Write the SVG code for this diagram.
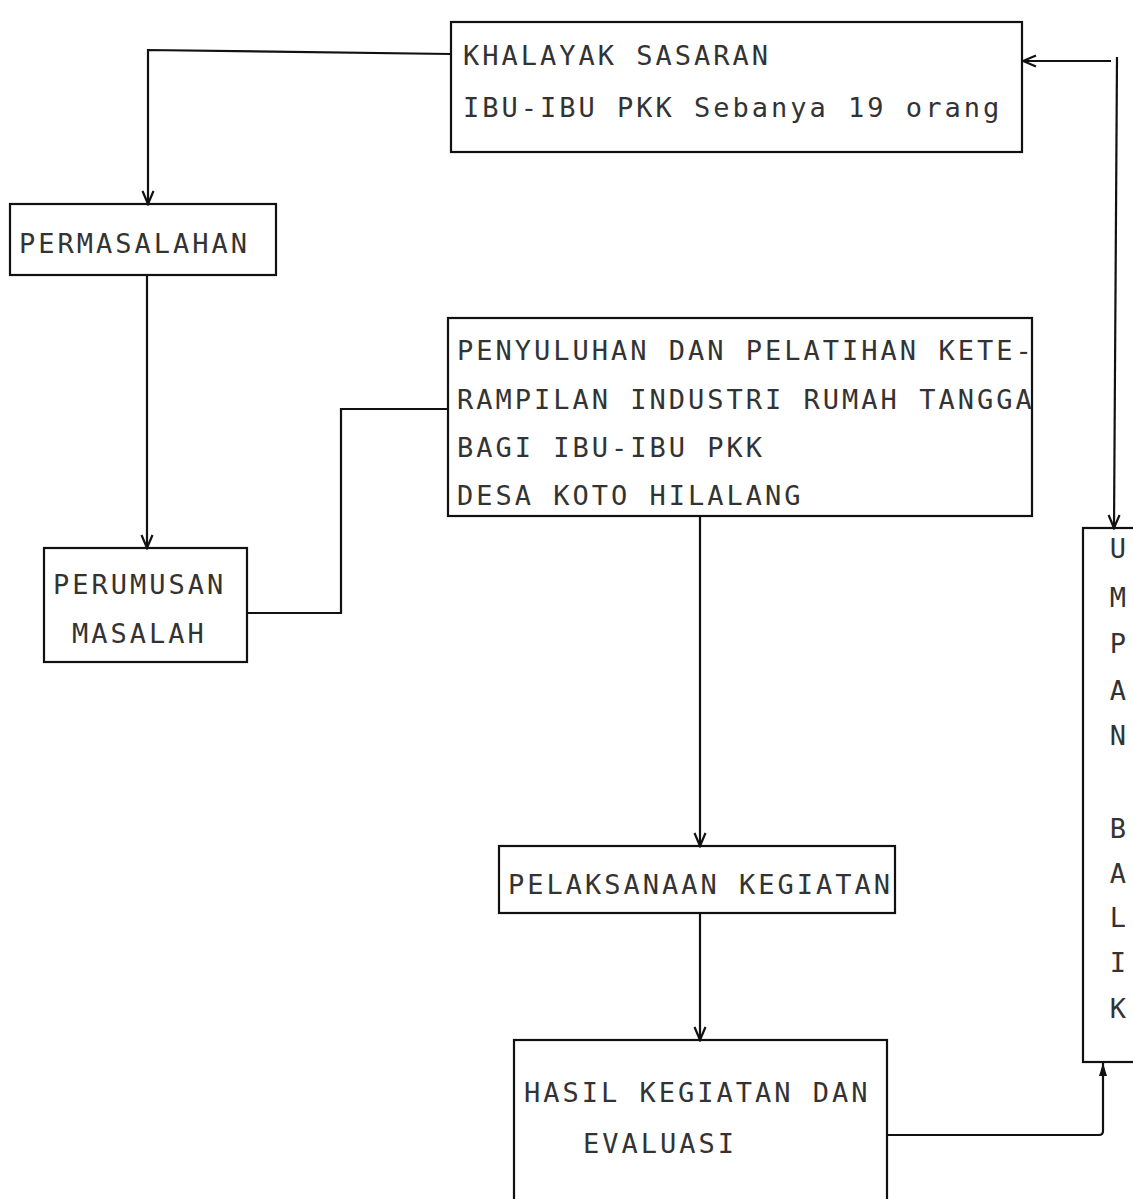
<svg xmlns="http://www.w3.org/2000/svg" width="1133" height="1199" viewBox="0 0 1133 1199">
<style>
.box{fill:none;stroke:#111;stroke-width:2.2}
.t{font-family:"DejaVu Sans Mono","Liberation Mono",monospace;font-size:27px;letter-spacing:3px;fill:#333}
.c{fill:none;stroke:#111;stroke-width:2.2}
.m{text-anchor:middle;letter-spacing:0}
</style>
<defs>
<marker id="open" viewBox="-14 -7 16 14" refX="0" refY="0" markerWidth="16" markerHeight="14" markerUnits="userSpaceOnUse" orient="auto">
<path d="M-13,-5.5 L0,0 L-13,5.5" fill="none" stroke="#111" stroke-width="2.2"/>
</marker>
<marker id="solid" viewBox="-14 -6 16 12" refX="0" refY="0" markerWidth="16" markerHeight="12" markerUnits="userSpaceOnUse" orient="auto">
<path d="M-13,-4 L0,0 L-13,4 Z" fill="#111"/>
</marker>
</defs>
<rect width="1133" height="1199" fill="#fff"/>

<g id="khalayak">
<rect class="box" x="451" y="22" width="571" height="130"/>
<text class="t" x="463" y="65">KHALAYAK SASARAN</text>
<text class="t" x="463" y="117">IBU-IBU PKK Sebanya 19 orang</text>
</g>

<g id="permasalahan">
<rect class="box" x="10" y="204" width="266" height="71"/>
<text class="t" x="19" y="253">PERMASALAHAN</text>
</g>

<g id="perumusan">
<rect class="box" x="44" y="548" width="203" height="114"/>
<text class="t" x="53" y="594">PERUMUSAN</text>
<text class="t" x="72" y="643">MASALAH</text>
</g>

<g id="penyuluhan">
<rect class="box" x="448" y="318" width="584" height="198"/>
<text class="t" x="457" y="360">PENYULUHAN DAN PELATIHAN KETE-</text>
<text class="t" x="457" y="409">RAMPILAN INDUSTRI RUMAH TANGGA</text>
<text class="t" x="457" y="457">BAGI IBU-IBU PKK</text>
<text class="t" x="457" y="505">DESA KOTO HILALANG</text>
</g>

<g id="pelaksanaan">
<rect class="box" x="499" y="846" width="396" height="67"/>
<text class="t" x="508" y="894">PELAKSANAAN KEGIATAN</text>
</g>

<g id="hasil">
<rect class="box" x="514" y="1040" width="373" height="175"/>
<text class="t" x="524" y="1102">HASIL KEGIATAN DAN</text>
<text class="t" x="583" y="1153">EVALUASI</text>
</g>

<g id="umpan-balik">
<rect class="box" x="1083" y="528" width="70" height="534"/>
<text class="t m" x="1118" y="558">U</text>
<text class="t m" x="1118" y="607">M</text>
<text class="t m" x="1118" y="653">P</text>
<text class="t m" x="1118" y="700">A</text>
<text class="t m" x="1118" y="745">N</text>
<text class="t m" x="1118" y="838">B</text>
<text class="t m" x="1118" y="883">A</text>
<text class="t m" x="1118" y="927">L</text>
<text class="t m" x="1118" y="972">I</text>
<text class="t m" x="1118" y="1018">K</text>
</g>

<g id="connectors">
<path class="c" d="M451,54 L148,50 L148,204" marker-end="url(#open)"/>
<path class="c" d="M147,275 L147,548" marker-end="url(#open)"/>
<path class="c" d="M247,613 L341,613 L341,409 L448,409"/>
<path class="c" d="M700,516 L700,846" marker-end="url(#open)"/>
<path class="c" d="M700,913 L700,1040" marker-end="url(#open)"/>
<path class="c" d="M887,1135 L1099,1135 Q1103,1135 1103,1131 L1103,1063" marker-end="url(#solid)"/>
<path class="c" d="M1117,57 L1114,528" marker-end="url(#open)"/>
<path class="c" d="M1111,61 L1023,61" marker-end="url(#open)"/>
</g>
</svg>
